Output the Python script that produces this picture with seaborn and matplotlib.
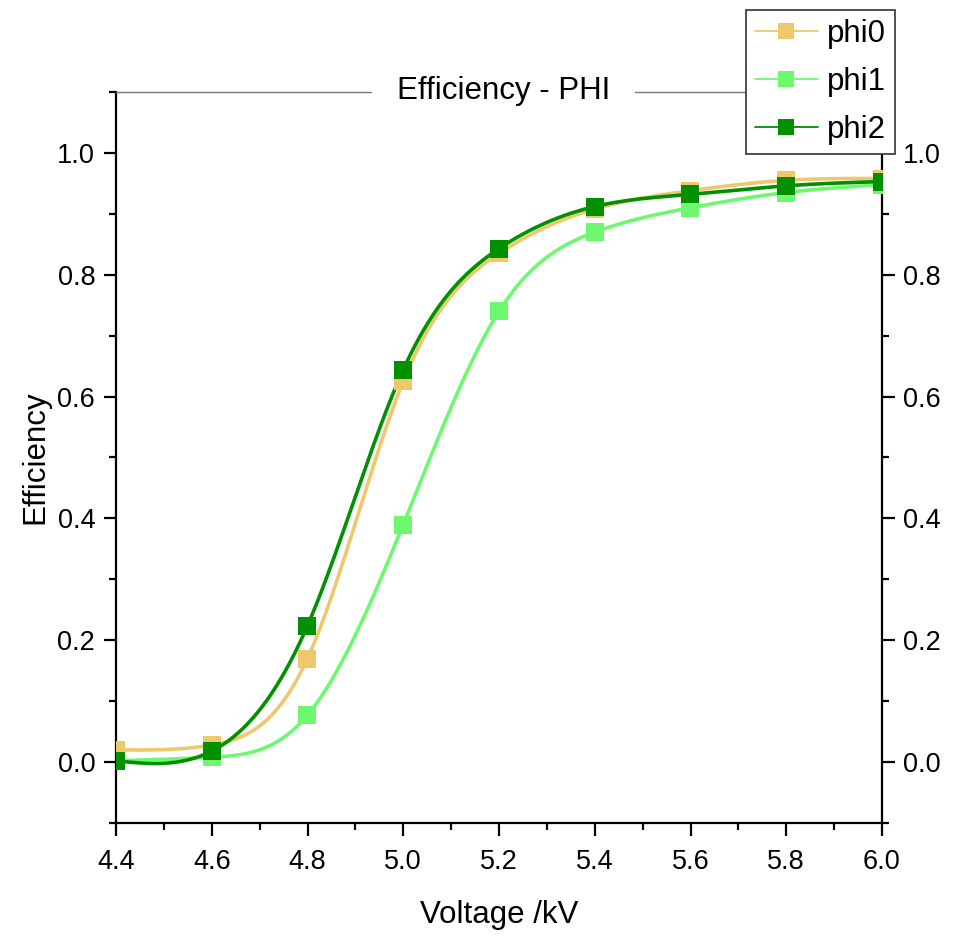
import numpy as np
import pandas as pd
import matplotlib
matplotlib.use("Agg")
import matplotlib.pyplot as plt
import seaborn as sns
from matplotlib.ticker import MultipleLocator
from matplotlib.lines import Line2D

voltage = [4.4, 4.6, 4.8, 5.0, 5.2, 5.4, 5.6, 5.8, 6.0]
phi0 = [0.020, 0.028, 0.170, 0.625, 0.835, 0.908, 0.938, 0.955, 0.958]
phi1 = [0.002, 0.008, 0.077, 0.390, 0.740, 0.870, 0.910, 0.935, 0.948]
phi2 = [0.002, 0.018, 0.224, 0.644, 0.843, 0.912, 0.932, 0.946, 0.953]
series_names = ["phi0", "phi1", "phi2"]
colors = ["#EEC86C", "#6EF870", "#009000"]

sns.set_theme(style="ticks")
plt.rcParams["font.family"] = ["Liberation Sans", "DejaVu Sans"]
for k in ["text.color", "axes.labelcolor", "xtick.color", "ytick.color"]:
    plt.rcParams[k] = "black"


def natural_spline(x, y, n=400):
    x = np.asarray(x, float)
    y = np.asarray(y, float)
    m = len(x)
    h = np.diff(x)
    A = np.zeros((m, m))
    b = np.zeros(m)
    A[0, 0] = 1
    A[-1, -1] = 1
    for i in range(1, m - 1):
        A[i, i - 1] = h[i - 1]
        A[i, i] = 2 * (h[i - 1] + h[i])
        A[i, i + 1] = h[i]
        b[i] = 3 * ((y[i + 1] - y[i]) / h[i] - (y[i] - y[i - 1]) / h[i - 1])
    c = np.linalg.solve(A, b)
    xs = np.linspace(x[0], x[-1], n)
    idx = np.clip(np.searchsorted(x, xs) - 1, 0, m - 2)
    dx = xs - x[idx]
    bb = (y[1:] - y[:-1]) / h - h * (2 * c[:-1] + c[1:]) / 3
    dd = (c[1:] - c[:-1]) / (3 * h)
    ys = y[idx] + bb[idx] * dx + c[idx] * dx ** 2 + dd[idx] * dx ** 3
    return xs, ys


df = pd.DataFrame({"Voltage": voltage, "phi0": phi0, "phi1": phi1, "phi2": phi2})
long = df.melt(id_vars="Voltage", var_name="series", value_name="Efficiency")

fig = plt.figure(figsize=(9.54, 9.36), dpi=100)
ax = fig.add_axes([116 / 954, 1 - 823 / 936, (882 - 116) / 954, (823 - 92) / 936])

handles = []
for name, col in zip(series_names, colors):
    sub = long[long["series"] == name]
    xs, ys = natural_spline(sub["Voltage"], sub["Efficiency"])
    sns.lineplot(x=xs, y=ys, ax=ax, color=col, lw=2.6, estimator=None, sort=False, zorder=3)
    sns.scatterplot(data=sub, x="Voltage", y="Efficiency", ax=ax, marker="s", s=165,
                    color=col, edgecolor=col, linewidth=0, zorder=4, legend=False)
    handles.append(Line2D([0], [0], color=col, lw=1.3, marker="s", markersize=12,
                          markeredgewidth=0, markerfacecolor=col))

ax.set_xlim(4.4, 6.0)
ax.set_ylim(-0.1, 1.1)
ax.xaxis.set_major_locator(MultipleLocator(0.2))
ax.xaxis.set_minor_locator(MultipleLocator(0.1))
ax.set_yticks([0.0, 0.2, 0.4, 0.6, 0.8, 1.0])
ax.yaxis.set_minor_locator(MultipleLocator(0.1))
ax.set_xticklabels([f"{v:.1f}" for v in ax.get_xticks()])
ax.set_yticklabels([f"{v:.1f}" for v in ax.get_yticks()])

ax.tick_params(which="both", direction="out", width=1.6, colors="black",
               labelsize=19.5, left=True, right=True, labelright=True, bottom=True, top=False)
ax.tick_params(which="major", length=9)
ax.tick_params(axis="x", which="major", pad=10)
ax.tick_params(axis="y", which="major", pad=6)
ax.tick_params(which="minor", length=5)

for s in ["left", "right", "bottom"]:
    ax.spines[s].set_color("black")
    ax.spines[s].set_linewidth(1.6)
ax.spines["top"].set_visible(True)
ax.spines["top"].set_color("#777777")
ax.spines["top"].set_linewidth(1.0)

ax.set_xlabel("Voltage /kV", fontsize=22.5, labelpad=18)
ax.set_ylabel("Efficiency", fontsize=22.5, labelpad=5)

ax.text(0.506, 1.002, "Efficiency - PHI", transform=ax.transAxes, ha="center", va="center",
        fontsize=22.5, bbox=dict(boxstyle="square,pad=0.8", fc="white", ec="none"), zorder=5)

leg = fig.legend(handles, series_names, loc="upper right",
                 bbox_to_anchor=(895 / 954, 1 - 10 / 936), bbox_transform=fig.transFigure,
                 borderaxespad=0, fontsize=22.5, frameon=True, fancybox=False,
                 handlelength=2.0, handletextpad=0.3, labelspacing=0.58,
                 borderpad=0.28, framealpha=1)
leg.get_frame().set_edgecolor("#333333")
leg.get_frame().set_linewidth(1.2)

fig.savefig("out.png", dpi=100)
